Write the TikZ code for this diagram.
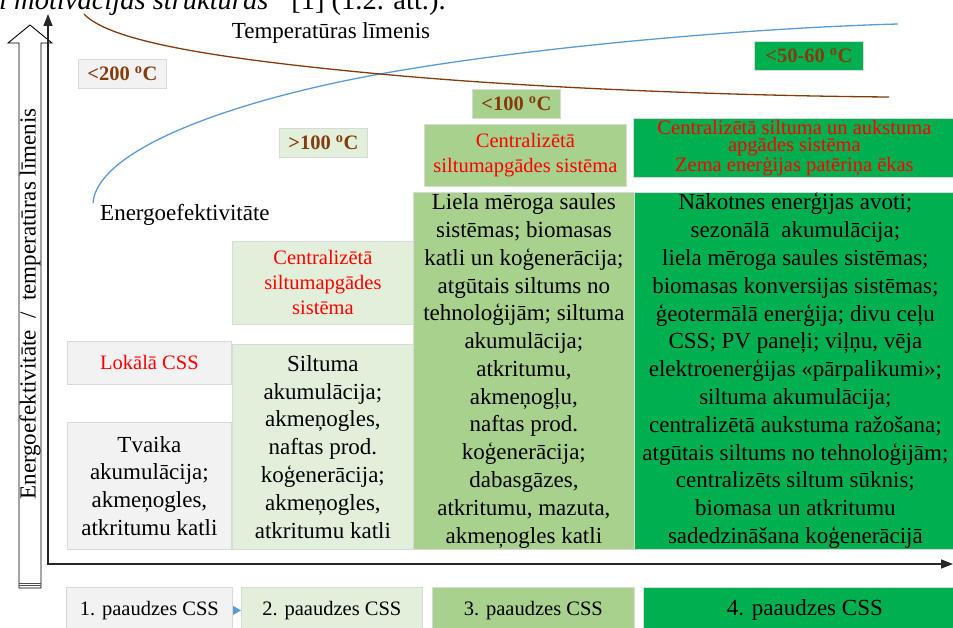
\documentclass[tikz,border=0pt]{standalone}
\usepackage{fontspec}
\setmainfont{Liberation Serif}
\usetikzlibrary{arrows.meta}
\definecolor{cA}{HTML}{F2F2F2}
\definecolor{cB}{HTML}{E2EFDA}
\definecolor{cC}{HTML}{A9D18E}
\definecolor{cD}{HTML}{00B050}
\definecolor{tbrown}{HTML}{843C0C}
\definecolor{cblue}{HTML}{5B9BD5}
\begin{document}
\begin{tikzpicture}[x=1pt,y=-1pt,
  cell/.style={draw=black!15, line width=0.8pt, inner sep=0pt, align=center, anchor=north west},
  big/.style={font=\fontsize{23pt}{27.8pt}\selectfont},
  redt/.style={text=red, font=\fontsize{20.5pt}{25pt}\selectfont},
  temp/.style={cell, text=tbrown, font=\bfseries\fontsize{20.5pt}{24pt}\selectfont},
  gen/.style={cell, font=\fontsize{20.5pt}{24pt}\selectfont},
  curve/.style={line width=1.3pt}]
\useasboundingbox (0,0) rectangle (953,628);
\clip (0,0) rectangle (953,628);

% caption fragment (cut by the page top)
\node[anchor=base west, inner sep=0pt, font=\fontsize{28.5pt}{30pt}\selectfont] (cap) at (-1,10)
  {\textit{i motivācijas struktūras”} [1] (1.2. att.).};

% block arrow on the left
\draw[line width=0.9pt, fill=white] (19,588) -- (19,43) -- (8,43) -- (30,25) -- (52,43) -- (41,43) -- (41,588) -- cycle;
\draw[line width=0.7pt, black!70] (19,583) -- (41,583) (19,585.5) -- (41,585.5);
\node[rotate=90, big, inner sep=0pt] (ylab) at (30,304) {Energoefektivitāte~~/~~temperatūras līmenis};

% axes
\coordinate (ytop) at (48,14);
\coordinate (orig) at (48,564);
\coordinate (xend) at (953,564);
\draw[line width=1.5pt, black!85, {Triangle[length=12pt,width=9pt]}-{Triangle[length=12pt,width=9pt]}] (ytop) -- (orig) -- (xend);

% curves
\coordinate (bs) at (93,203);
\coordinate (cross) at (380,74);
\coordinate (be) at (898,24);
\coordinate (rs) at (84,14);
\coordinate (re) at (889,97);
\draw[curve, cblue] (bs) .. controls (97,150) and (230,101) .. (cross) .. controls (530,47) and (750,28) .. (be);
\draw[curve, tbrown] (rs) .. controls (110,42) and (220,59) .. (cross) .. controls (540,89) and (750,96) .. (re);
\node[big, anchor=center] (tl) at (331,33) {Temperatūras līmenis};
\node[big, anchor=west, inner sep=0pt] (el) at (100,215) {Energoefektivitāte};

% temperature labels
\node[temp, fill=cA, minimum width=88pt, minimum height=29pt] (t1) at (78,59) {<200 \textsuperscript{o}C};
\node[temp, fill=cB, minimum width=88pt, minimum height=29pt] (t2) at (279,128) {>100 \textsuperscript{o}C};
\node[temp, fill=cC, minimum width=88pt, minimum height=29pt] (t3) at (472,89) {<100 \textsuperscript{o}C};
\node[temp, fill=cD, minimum width=109pt, minimum height=29pt] (t4) at (754,41) {<50-60 \textsuperscript{o}C};

% headers
\node[cell, redt, fill=cA, minimum width=164pt, minimum height=43pt] (h1) at (67,341) {Lokālā CSS};
\node[cell, redt, fill=cB, minimum width=181pt, minimum height=83pt] (h2) at (232,241) {Centralizētā\\siltumapgādes\\sistēma};
\node[cell, redt, fill=cC, minimum width=202pt, minimum height=62pt] (h3) at (424,124) {Centralizētā\\siltumapgādes sistēma};
\node[cell, text=red, font=\fontsize{20.5pt}{17pt}\selectfont, fill=cD, minimum width=322pt, minimum height=59pt] (h4) at (633,118)
  {Centralizētā siltuma un aukstuma\\apgādes sistēma\\Zema enerģijas patēriņa ēkas};

% content columns
\node[cell, big, fill=cA, minimum width=164pt, minimum height=127pt] (c1) at (67,422)
  {Tvaika\\akumulācija;\\akmeņogles,\\atkritumu katli};
\node[cell, big, fill=cB, minimum width=181pt, minimum height=205pt] (c2) at (232,344)
  {Siltuma\\akumulācija;\\akmeņogles,\\naftas prod.\\koģenerācija;\\akmeņogles,\\atkritumu katli};
\node[cell, big, fill=cC, minimum width=221pt, minimum height=357pt] (c3) at (413,192)
  {Liela mēroga saules\\sistēmas; biomasas\\katli un koģenerācija;\\atgūtais siltums no\\tehnoloģijām; siltuma\\akumulācija;\\atkritumu,\\akmeņogļu,\\naftas prod.\\koģenerācija;\\dabasgāzes,\\atkritumu, mazuta,\\akmeņogles katli};
\node[cell, big, fill=cD, minimum width=322pt, minimum height=357pt] (c4) at (634,192)
  {Nākotnes enerģijas avoti;\\sezonālā~ akumulācija;\\liela mēroga saules sistēmas;\\biomasas konversijas sistēmas;\\ģeotermālā enerģija; divu ceļu\\CSS; PV paneļi; viļņu, vēja\\elektroenerģijas «pārpalikumi»;\\siltuma akumulācija;\\centralizētā aukstuma ražošana;\\atgūtais siltums no tehnoloģijām;\\centralizēts siltum sūknis;\\biomasa un atkritumu\\sadedzināšana koģenerācijā};

% generations
\node[gen, fill=cA, minimum width=166pt, minimum height=46pt] (g1) at (66,587) {1. paaudzes CSS};
\node[gen, fill=cB, minimum width=181pt, minimum height=46pt] (g2) at (241,587) {2. paaudzes CSS};
\node[gen, fill=cC, minimum width=202pt, minimum height=46pt] (g3) at (432,587) {3. paaudzes CSS};
\node[cell, big, fill=cD, minimum width=323pt, minimum height=46pt] (g4) at (643,587) {4. paaudzes CSS};
\draw[cblue, line width=0.8pt, -{Triangle[length=8pt,width=9pt]}] (g1.east) -- (g2.west);
\end{tikzpicture}
\end{document}
